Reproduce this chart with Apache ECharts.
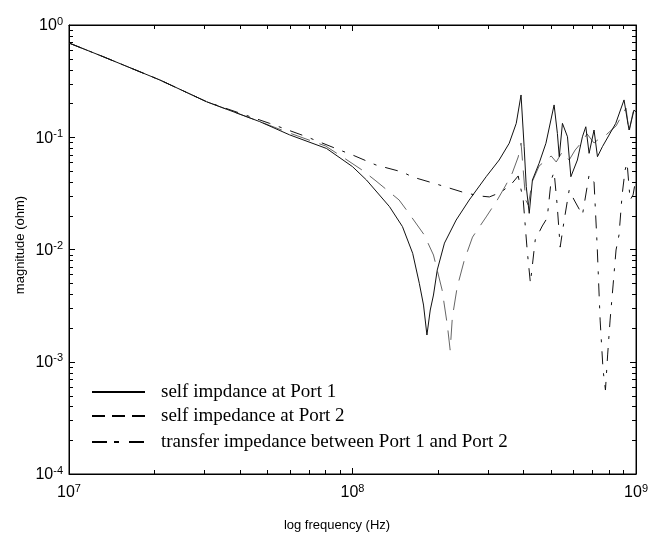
<!DOCTYPE html>
<html>
<head>
<meta charset="utf-8">
<script src="https://cdn.jsdelivr.net/npm/echarts@6/dist/echarts.min.js"></script>
<style>
  html, body { margin: 0; padding: 0; background: #fff; }
  #chart { width: 651px; height: 534px; }
</style>
</head>
<body>
<div id="chart"></div>
<script>
// Frequencies in MHz, impedance magnitudes in ohm.
const freqPort1 = [10, 13.2, 20.9, 30.6, 47.0, 60.0, 81.0, 100, 112, 135, 150, 163, 172, 178, 183, 188, 193, 199, 211, 232, 258, 296, 329, 357, 378, 393, 403, 410, 420, 431, 455, 481, 514, 528, 536, 550, 573, 589, 621, 647, 665, 683, 711, 731, 761, 848, 907, 932, 945, 984, 1000];
const magPort1 = [0.691, 0.522, 0.324, 0.207, 0.138, 0.105, 0.0794, 0.0547, 0.0416, 0.0241, 0.0160, 0.00925, 0.00500, 0.00320, 0.00173, 0.00289, 0.00393, 0.00657, 0.0114, 0.0183, 0.0276, 0.0445, 0.0627, 0.0884, 0.133, 0.238, 0.0824, 0.0363, 0.0210, 0.0416, 0.0586, 0.0884, 0.194, 0.108, 0.0671, 0.133, 0.101, 0.0445, 0.0627, 0.101, 0.124, 0.0719, 0.116, 0.0671, 0.0824, 0.133, 0.215, 0.142, 0.116, 0.175, 0.168];

const freqPort2 = [10, 13.2, 20.9, 30.6, 47.0, 60.0, 80.3, 92.2, 108, 121, 146, 156, 179, 193, 207, 216, 221, 225, 234, 248, 265, 296, 324, 346, 366, 384, 393, 400, 408, 417, 430, 455, 482, 502, 523, 549, 581, 610, 640, 672, 711, 747, 784, 850, 893, 922, 945, 976, 1000];
const magPort2 = [0.691, 0.522, 0.324, 0.207, 0.138, 0.109, 0.0836, 0.0667, 0.0511, 0.0408, 0.0276, 0.0220, 0.0135, 0.00893, 0.00436, 0.00212, 0.00127, 0.00250, 0.00463, 0.00806, 0.0129, 0.0195, 0.0276, 0.0368, 0.0480, 0.0667, 0.0889, 0.0511, 0.0276, 0.0249, 0.0399, 0.0554, 0.0627, 0.0681, 0.0602, 0.0739, 0.0627, 0.0770, 0.0889, 0.107, 0.0889, 0.0985, 0.105, 0.126, 0.158, 0.182, 0.111, 0.168, 0.182];

const freqTransfer = [10, 13.2, 20.9, 30.6, 51.0, 68.9, 90.0, 100, 121, 150, 163, 195, 244, 280, 304, 335, 366, 384, 400, 413, 424, 441, 467, 486, 502, 514, 527, 540, 558, 581, 605, 647, 683, 711, 729, 747, 765, 780, 794, 810, 830, 850, 871, 893, 915, 930, 953, 976, 1000];
const magTransfer = [0.691, 0.522, 0.324, 0.207, 0.133, 0.101, 0.0770, 0.0695, 0.0566, 0.0490, 0.0442, 0.0387, 0.0325, 0.0300, 0.0294, 0.0325, 0.0391, 0.0452, 0.0276, 0.00990, 0.00503, 0.0122, 0.0162, 0.0191, 0.0416, 0.0490, 0.0249, 0.0105, 0.0183, 0.0339, 0.0276, 0.0203, 0.0461, 0.0399, 0.0110, 0.00235, 0.000844, 0.000560, 0.00115, 0.00235, 0.00483, 0.00990, 0.0135, 0.0306, 0.0511, 0.0590, 0.0276, 0.0306, 0.0434];

const legendLabels = [
  'self impdance at Port 1',
  'self impedance at Port 2',
  'transfer impedance between Port 1 and Port 2'
];

// Axis range (Hz and ohm) and minor tick positions
const xRange = [1e7, 1e9];
const yRange = [1e-4, 1];
const xMinorTicks = [2e7, 3e7, 4e7, 5e7, 6e7, 7e7, 8e7, 9e7, 2e8, 3e8, 4e8, 5e8, 6e8, 7e8, 8e8, 9e8];
const yMinorTicks = [2e-4, 3e-4, 4e-4, 5e-4, 6e-4, 7e-4, 8e-4, 9e-4,
                     2e-3, 3e-3, 4e-3, 5e-3, 6e-3, 7e-3, 8e-3, 9e-3,
                     2e-2, 3e-2, 4e-2, 5e-2, 6e-2, 7e-2, 8e-2, 9e-2,
                     2e-1, 3e-1, 4e-1, 5e-1, 6e-1, 7e-1, 8e-1, 9e-1];

const toPairs = (f, m) => f.map((v, i) => [v * 1e6, m[i]]);

const sans = "'Liberation Sans', Arial, Helvetica, sans-serif";
const serif = "'Liberation Serif', 'Times New Roman', serif";
const ink = '#111';

const powLabel = v => '{b|10}{e|' + Math.round(Math.log10(v)) + '}';
const powRich = {
  b: { fontSize: 16, fontFamily: sans, color: '#000', lineHeight: 18, verticalAlign: 'bottom' },
  e: { fontSize: 11, fontFamily: sans, color: '#000', lineHeight: 18, verticalAlign: 'top', padding: [0, 0, 8, 0] }
};

function minorTickSeries(values, isX) {
  return {
    type: 'custom',
    silent: true,
    clip: false,
    z: 5,
    data: values.map(v => isX ? [v, 0.01] : [1e8, v]),
    encode: { x: 0, y: 1 },
    renderItem(params, api) {
      const len = 4;
      if (isX) {
        const b = api.coord([api.value(0), yRange[0]]);
        const t = api.coord([api.value(0), yRange[1]]);
        const x = Math.round(b[0]) + 0.5;
        return { type: 'group', children: [
          { type: 'line', shape: { x1: x, y1: b[1], x2: x, y2: b[1] - len }, style: { stroke: '#000', lineWidth: 1 } },
          { type: 'line', shape: { x1: x, y1: t[1], x2: x, y2: t[1] + len }, style: { stroke: '#000', lineWidth: 1 } }
        ]};
      }
      const l = api.coord([xRange[0], api.value(1)]);
      const r = api.coord([xRange[1], api.value(1)]);
      const y = Math.round(l[1]) + 0.5;
      return { type: 'group', children: [
        { type: 'line', shape: { x1: l[0], y1: y, x2: l[0] + len, y2: y }, style: { stroke: '#000', lineWidth: 1 } },
        { type: 'line', shape: { x1: r[0], y1: y, x2: r[0] - len, y2: y }, style: { stroke: '#000', lineWidth: 1 } }
      ]};
    }
  };
}

const chart = echarts.init(document.getElementById('chart'), null, { renderer: 'canvas' });

const legendX1 = 92, legendX2 = 145, legendTextX = 161;
const legendRows = [392, 416, 442];
const legendDash = [null, [13, 7], [15, 7, 5, 10]];

const legendGraphics = [];
legendRows.forEach((y, i) => {
  legendGraphics.push({
    type: 'line',
    shape: { x1: legendX1, y1: y, x2: legendX2, y2: y },
    style: { stroke: '#000', lineWidth: 2, lineDash: legendDash[i] || undefined }
  });
  legendGraphics.push({
    type: 'text',
    x: legendTextX, y: y,
    style: { text: legendLabels[i], font: '19px ' + serif, fill: '#000', verticalAlign: 'middle', align: 'left' }
  });
});

chart.setOption({
  animation: false,
  backgroundColor: '#fff',
  grid: { left: 69, top: 25, right: 14, bottom: 60, show: true, borderColor: '#000', borderWidth: 1 },
  xAxis: [
    {
      type: 'log', logBase: 10, min: xRange[0], max: xRange[1],
      axisLine: { show: true, lineStyle: { color: '#000', width: 1 } },
      axisTick: { show: true, inside: true, length: 6, lineStyle: { color: '#000' } },
      splitLine: { show: false },
      axisLabel: { formatter: powLabel, rich: powRich, margin: 9, showMinLabel: true, showMaxLabel: true }
    },
    {
      type: 'log', logBase: 10, min: xRange[0], max: xRange[1], position: 'top',
      axisLine: { show: true, lineStyle: { color: '#000', width: 1 } },
      axisTick: { show: true, inside: true, length: 6, lineStyle: { color: '#000' } },
      splitLine: { show: false },
      axisLabel: { show: false }
    }
  ],
  yAxis: [
    {
      type: 'log', logBase: 10, min: yRange[0], max: yRange[1],
      axisLine: { show: true, lineStyle: { color: '#000', width: 1 } },
      axisTick: { show: true, inside: true, length: 6, lineStyle: { color: '#000' } },
      splitLine: { show: false },
      axisLabel: { formatter: powLabel, rich: powRich, margin: 6, showMinLabel: true, showMaxLabel: true }
    },
    {
      type: 'log', logBase: 10, min: yRange[0], max: yRange[1], position: 'right',
      axisLine: { show: true, lineStyle: { color: '#000', width: 1 } },
      axisTick: { show: true, inside: true, length: 6, lineStyle: { color: '#000' } },
      splitLine: { show: false },
      axisLabel: { show: false }
    }
  ],
  series: [
    {
      name: legendLabels[0], type: 'line', showSymbol: false, symbol: 'none',
      data: toPairs(freqPort1, magPort1),
      lineStyle: { color: ink, width: 1 }, z: 3
    },
    {
      name: legendLabels[1], type: 'line', showSymbol: false, symbol: 'none',
      data: toPairs(freqPort2, magPort2),
      lineStyle: { color: '#666', width: 1, type: [20, 10] }, z: 2
    },
    {
      name: legendLabels[2], type: 'line', showSymbol: false, symbol: 'none',
      data: toPairs(freqTransfer, magTransfer),
      lineStyle: { color: ink, width: 1, type: [13, 9, 3, 9] }, z: 2
    },
    minorTickSeries(xMinorTicks, true),
    minorTickSeries(yMinorTicks, false)
  ],
  graphic: [
    ...legendGraphics,
    {
      type: 'text', x: 337, y: 525,
      style: { text: 'log frequency (Hz)', font: '13px ' + sans, fill: '#000', align: 'center', verticalAlign: 'middle' }
    },
    {
      type: 'text', x: 20, y: 245, rotation: Math.PI / 2,
      style: { text: 'magnitude (ohm)', font: '13px ' + sans, fill: '#000', align: 'center', verticalAlign: 'middle' }
    }
  ]
});
</script>
</body>
</html>
